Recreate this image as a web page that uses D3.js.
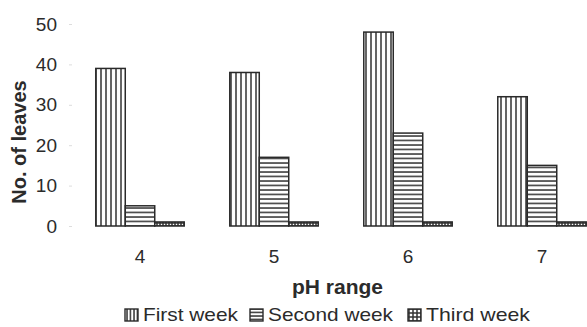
<!DOCTYPE html>
<html>
<head>
<meta charset="utf-8">
<script src="https://cdn.jsdelivr.net/npm/d3@7"></script>
<style>
  body { margin: 0; background: #fff; }
  text { font-family: "Liberation Sans", Arial, sans-serif; fill: #2b2b2b; }
</style>
</head>
<body>
<div id="graphic"></div>
<script>
// data
let phRange = ["4", "5", "6", "7"];
let weeks = ["First week", "Second week", "Third week"];
let firstWeek = [39, 38, 48, 32];
let secondWeek = [5, 17, 23, 15];
let thirdWeek = [1, 1, 1, 1];
let yTicks = [0, 10, 20, 30, 40, 50];

let width = 587, height = 327;

let svg = d3.select("#graphic")
  .append("svg")
    .attr("width", width)
    .attr("height", height);

// hatch patterns
let defs = svg.append("defs");
function hatch(id, size, vert, horiz) {
  let p = defs.append("pattern")
    .attr("id", id)
    .attr("patternUnits", "userSpaceOnUse")
    .attr("width", size)
    .attr("height", size);
  p.append("rect").attr("width", size).attr("height", size).attr("fill", "#fff");
  if (vert) p.append("line").attr("x1", 1).attr("x2", 1).attr("y1", 0).attr("y2", size)
    .attr("stroke", "#333").attr("stroke-width", 1.5);
  if (horiz) p.append("line").attr("x1", 0).attr("x2", size).attr("y1", 1).attr("y2", 1)
    .attr("stroke", "#333").attr("stroke-width", 1.5);
}
hatch("pat0", 5, true, false);
hatch("pat1", 4.5, false, true);
hatch("pat2", 3, true, true);
hatch("leg0", 3.5, true, false);
hatch("leg1", 3.5, false, true);
hatch("leg2", 4, true, true);

let x = d3.scaleBand()
  .domain(phRange)
  .range([73, 609])
  .paddingInner(0.34)
  .paddingOuter(0.17);

let xSub = d3.scaleBand()
  .domain(weeks)
  .range([0, x.bandwidth()]);

let y = d3.scaleLinear()
  .domain([0, 50])
  .range([226, 24]);

// Y axis (faint ticks, no line)
let yAxis = svg.append("g")
  .attr("transform", "translate(72,0)")
  .call(d3.axisLeft(y).tickValues(yTicks).tickSize(3).tickPadding(12));
yAxis.select(".domain").remove();
yAxis.selectAll("line").attr("stroke", "#ddd");
yAxis.selectAll("text")
  .style("font-size", "19px")
  .attr("fill", "#333");

// X axis labels
let xAxis = svg.append("g")
  .attr("transform", "translate(0,226)")
  .call(d3.axisBottom(x).tickSize(0).tickPadding(24));
xAxis.select(".domain").remove();
xAxis.selectAll("text")
  .style("font-size", "19px")
  .attr("fill", "#333");

// Bars
let series = [firstWeek, secondWeek, thirdWeek];
weeks.forEach(function(w, i) {
  svg.selectAll(".bar" + i)
    .data(phRange)
    .enter()
    .append("rect")
      .attr("class", "bar" + i)
      .attr("x", d => x(d) + xSub(w))
      .attr("y", (d, j) => y(series[i][j]))
      .attr("width", xSub.bandwidth())
      .attr("height", (d, j) => y(0) - y(series[i][j]))
      .attr("fill", "url(#pat" + i + ")")
      .attr("stroke", "#2a2a2a")
      .attr("stroke-width", 1.5);
});

// Axis titles
svg.append("text")
  .attr("transform", "translate(26,142) rotate(-90)")
  .attr("text-anchor", "middle")
  .style("font-size", "20px")
  .style("font-weight", "bold")
  .text("No. of leaves");

svg.append("text")
  .attr("x", 292)
  .attr("y", 294)
  .attr("textLength", 91)
  .attr("lengthAdjust", "spacingAndGlyphs")
  .style("font-size", "20px")
  .style("font-weight", "bold")
  .text("pH range");

// Legend
let legX = [125, 250, 408];
let legLen = [95, 125, 104];
let legend = svg.append("g");
weeks.forEach(function(w, i) {
  legend.append("rect")
    .attr("x", legX[i])
    .attr("y", 309)
    .attr("width", 13)
    .attr("height", 12)
    .attr("fill", "url(#leg" + i + ")")
    .attr("stroke", "#2a2a2a")
    .attr("stroke-width", 1.4);
  legend.append("text")
    .attr("x", legX[i] + 18)
    .attr("y", 321)
    .attr("textLength", legLen[i])
    .attr("lengthAdjust", "spacingAndGlyphs")
    .style("font-size", "19px")
    .text(w);
});
</script>
</body>
</html>
